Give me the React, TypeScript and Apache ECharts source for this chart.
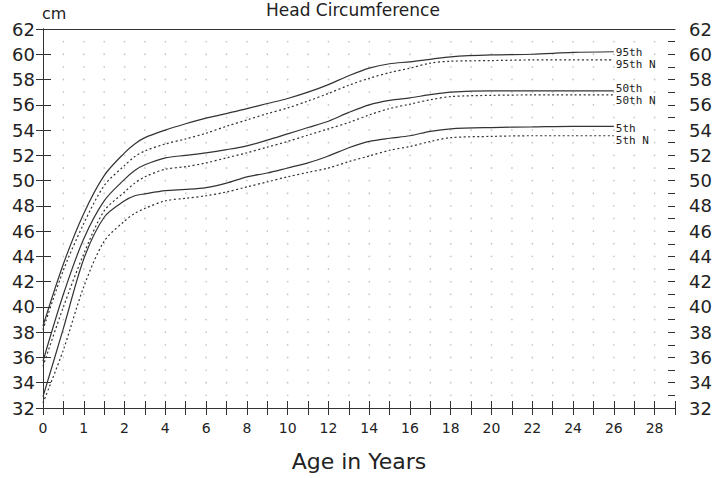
import React, { useEffect, useRef } from "react";
import * as echarts from "echarts";

// Ages in years (x axis is stretched: 0-2 years in half-year ticks, then 1-year ticks)
const ages = [0, 0.5, 1, 1.5, 2, 2.5, 3, 4, 5, 6, 7, 8, 9, 10, 11, 12, 13, 14, 15, 16, 17, 18, 20, 22, 24, 26];

const p95 = [38.5, 43.4, 47.4, 50.4, 52.2, 52.9, 53.4, 54.0, 54.5, 54.95, 55.3, 55.7, 56.1, 56.5, 57.0, 57.6, 58.3, 58.9, 59.25, 59.4, 59.6, 59.8, 59.95, 60.0, 60.15, 60.2];
const p95N = [38.2, 42.9, 46.6, 49.6, 51.2, 51.9, 52.35, 52.9, 53.3, 53.75, 54.3, 54.8, 55.3, 55.75, 56.3, 56.9, 57.55, 58.1, 58.55, 58.9, 59.3, 59.45, 59.5, 59.55, 59.55, 59.55];
const p50 = [35.7, 41.0, 45.4, 48.4, 50.1, 50.8, 51.25, 51.8, 52.0, 52.2, 52.45, 52.75, 53.2, 53.7, 54.2, 54.7, 55.4, 56.0, 56.35, 56.55, 56.8, 57.0, 57.1, 57.1, 57.1, 57.1];
const p50N = [35.3, 40.0, 44.2, 47.6, 49.1, 49.8, 50.3, 50.9, 51.1, 51.4, 51.8, 52.2, 52.65, 53.1, 53.6, 54.1, 54.6, 55.2, 55.7, 56.05, 56.4, 56.65, 56.75, 56.78, 56.78, 56.78];
const p5 = [32.9, 38.3, 43.8, 47.1, 48.4, 48.8, 48.95, 49.2, 49.3, 49.45, 49.8, 50.3, 50.6, 51.0, 51.4, 51.95, 52.6, 53.1, 53.35, 53.55, 53.9, 54.1, 54.2, 54.25, 54.3, 54.3];
const p5N = [32.4, 36.6, 41.6, 45.2, 46.8, 47.4, 47.8, 48.4, 48.6, 48.8, 49.1, 49.5, 49.9, 50.3, 50.65, 51.0, 51.5, 51.95, 52.4, 52.7, 53.1, 53.4, 53.5, 53.55, 53.55, 53.55];

// Tick labels at every other axis step
const xTickLabels = ["0", "1", "2", "4", "6", "8", "10", "12", "14", "16", "18", "20", "22", "24", "26", "28"];

const seriesDefs = [
  { name: "95th", data: p95, dashed: false, offset: [0, 1] },
  { name: "95th N", data: p95N, dashed: true, offset: [0, 5] },
  { name: "50th", data: p50, dashed: false, offset: [0, -2.5] },
  { name: "50th N", data: p50N, dashed: true, offset: [0, 5.5] },
  { name: "5th", data: p5, dashed: false, offset: [0, 2] },
  { name: "5th N", data: p5N, dashed: true, offset: [0, 4.5] },
];

const toU = (age: number) => (age <= 2 ? age * 2 : age + 2);

const FONT = "DejaVu Sans";
const INK = "#222";
const LINE = "#333";

export default function App() {
  const ref = useRef<HTMLDivElement>(null);
  useEffect(() => {
    if (!ref.current) return;
    const chart = echarts.init(ref.current, null, { renderer: "svg" });

    const dots: number[][] = [];
    for (let u = 1; u <= 30; u++) {
      for (let v = 33; v <= 61; v++) dots.push([u, v]);
    }

    const xBase = { type: "value", min: 0, max: 31, interval: 1, splitLine: { show: false } };
    const yBase = { type: "value", min: 32, max: 62, splitLine: { show: false } };

    chart.setOption({
      animation: false,
      backgroundColor: "#fff",
      title: {
        text: "Head Circumference",
        left: 266,
        top: 1,
        padding: 0,
        textStyle: { fontFamily: FONT, fontSize: 17, fontWeight: "normal", color: INK },
      },
      graphic: [
        {
          type: "text",
          x: 42,
          y: 13,
          style: { text: "cm", fontFamily: FONT, fontSize: 16, fill: INK, verticalAlign: "middle" },
        },
      ],
      grid: { left: 43, right: 43, top: 29, bottom: 70 },
      xAxis: [
        {
          ...xBase,
          position: "bottom",
          axisLine: { show: true, lineStyle: { color: LINE, width: 1 } },
          axisTick: { show: true, length: 7, lineStyle: { color: LINE } },
          axisLabel: {
            fontFamily: FONT,
            fontSize: 14,
            color: INK,
            margin: 13,
            formatter: (u: number) => (u % 2 === 0 ? xTickLabels[u / 2] ?? "" : ""),
          },
          name: "Age in Years",
          nameLocation: "middle",
          nameGap: 42,
          nameTextStyle: { fontFamily: FONT, fontSize: 22, color: INK },
        },
        {
          ...xBase,
          position: "bottom",
          axisLine: { show: false },
          axisTick: { show: true, inside: true, length: 7, lineStyle: { color: LINE } },
          axisLabel: { show: false },
        },
        {
          ...xBase,
          position: "top",
          axisLine: { show: true, lineStyle: { color: LINE, width: 1 } },
          axisTick: { show: false },
          axisLabel: { show: false },
        },
      ],
      yAxis: [
        {
          ...yBase,
          interval: 2,
          position: "left",
          axisLine: { show: true, lineStyle: { color: LINE } },
          axisTick: { show: true, length: 7, lineStyle: { color: LINE } },
          axisLabel: { fontFamily: FONT, fontSize: 18, color: INK, margin: 8 },
        },
        {
          ...yBase,
          interval: 2,
          position: "left",
          axisLine: { show: false },
          axisTick: { show: true, inside: true, length: 7, lineStyle: { color: LINE } },
          axisLabel: { show: false },
        },
        {
          ...yBase,
          interval: 2,
          position: "right",
          axisLine: { show: true, lineStyle: { color: LINE } },
          axisTick: { show: true, length: 8, lineStyle: { color: LINE } },
          axisLabel: { fontFamily: FONT, fontSize: 18, color: INK, margin: 14 },
        },
        {
          ...yBase,
          interval: 1,
          position: "right",
          axisLine: { show: false },
          axisTick: { show: true, inside: true, length: 7, lineStyle: { color: LINE } },
          axisLabel: { show: false },
        },
      ],
      series: [
        {
          type: "scatter",
          silent: true,
          symbolSize: 1.6,
          itemStyle: { color: "#b5b5b5" },
          data: dots,
        },
        ...seriesDefs.map((s) => ({
          type: "line",
          name: s.name,
          silent: true,
          symbol: "none",
          smooth: 0.3,
          data: ages.map((a, i) => [toU(a), s.data[i]]),
          lineStyle: { color: LINE, width: 1.2, type: s.dashed ? [2, 2.5] : "solid" },
          endLabel: {
            show: true,
            formatter: s.name,
            distance: 2,
            offset: s.offset,
            fontFamily: "DejaVu Sans Mono",
            fontSize: 11,
            lineHeight: 11,
            color: INK,
          },
        })),
      ],
    });
    return () => chart.dispose();
  }, []);

  return (
    <div
      ref={ref}
      style={{ position: "fixed", left: 0, top: 0, width: 718, height: 478, background: "#fff" }}
    />
  );
}
